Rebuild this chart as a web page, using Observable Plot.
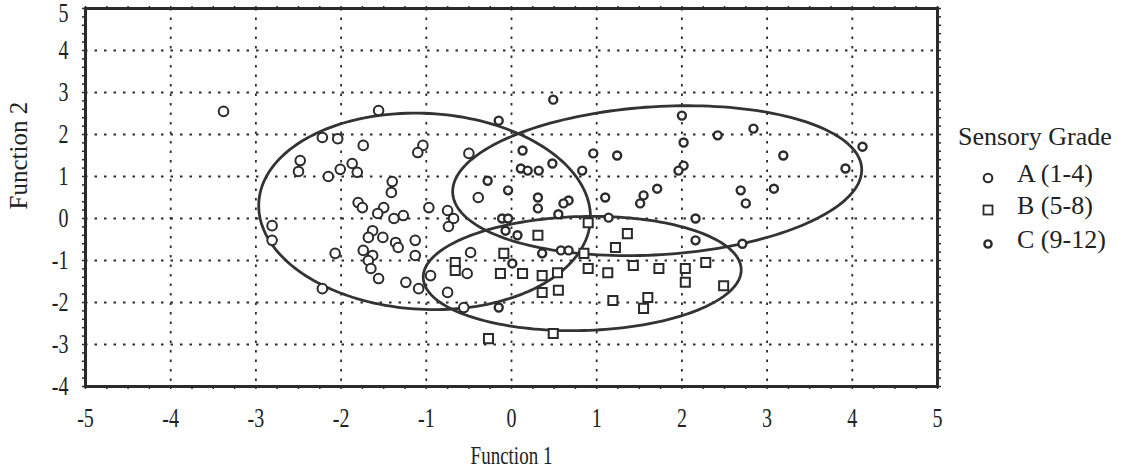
<!DOCTYPE html>
<html>
<head>
<meta charset="utf-8">
<script src="https://cdn.jsdelivr.net/npm/d3@7"></script>
<script src="https://cdn.jsdelivr.net/npm/@observablehq/plot@0.6"></script>
<style>
  html, body { margin: 0; padding: 0; background: #fff; }
  #wrap { position: relative; width: 1126px; height: 472px; font-family: "Liberation Serif", "Times New Roman", serif; color: #222; }
  #wrap svg.plot { position: absolute; left: 0; top: 0; }
  .lg { position: absolute; font-size: 26px; line-height: 26px; white-space: nowrap; color: #222; }
  .ls { position: absolute; }
</style>
</head>
<body>
<div id="wrap"></div>
<script>
// ---- Data ----
const xTicks = [-5, -4, -3, -2, -1, 0, 1, 2, 3, 4, 5];
const yTicks = [-4, -3, -2, -1, 0, 1, 2, 3, 4, 5];
const xLabel = "Function 1";
const yLabel = "Function 2";
const legendTitle = "Sensory Grade";
const legendLabels = ["A (1-4)", "B (5-8)", "C (9-12)"];

// Grade A (1-4): circles
const gradeA_x = [-3.38, -1.56, -2.22, -2.04, -1.74, -1.04, -1.10, -0.50, -2.48, -2.50,
  -2.15, -2.01, -1.87, -1.81, -1.40, -1.41, -0.39, -1.80, -1.75, -1.50,
  -1.57, -1.27, -1.38, -0.97, -0.75, -0.68, -0.74, -2.81, -2.81, -1.63,
  -1.51, -1.68, -1.36, -1.33, -1.13, -1.13, -1.74, -1.63, -1.68, -1.65,
  -2.07, -1.56, -1.24, -1.09, -0.95, -2.22, -0.48, -0.52, -0.75, -0.56];
const gradeA_y = [2.55, 2.57, 1.93, 1.90, 1.74, 1.74, 1.57, 1.55, 1.38, 1.12,
  1.00, 1.17, 1.31, 1.10, 0.88, 0.62, 0.50, 0.38, 0.26, 0.26,
  0.12, 0.07, 0.00, 0.26, 0.19, 0.00, -0.19, -0.17, -0.52, -0.29,
  -0.45, -0.45, -0.57, -0.69, -0.52, -0.88, -0.76, -0.88, -1.00, -1.19,
  -0.83, -1.43, -1.52, -1.67, -1.36, -1.67, -0.81, -1.31, -1.76, -2.12];

// Grade B (5-8): squares
const gradeB_x = [0.90, 0.31, 1.36, 1.22, -0.09, 0.85, -0.66, -0.66, -0.13, 0.13,
  0.36, 0.54, 0.90, 1.13, 1.43, 1.73, 2.04, 2.04, 2.28, 2.49,
  0.36, 0.55, 1.19, 1.60, 1.55, 0.49, -0.27];
const gradeB_y = [-0.10, -0.40, -0.36, -0.69, -0.83, -0.83, -1.05, -1.24, -1.31, -1.31,
  -1.36, -1.29, -1.19, -1.29, -1.12, -1.19, -1.19, -1.52, -1.05, -1.60,
  -1.76, -1.71, -1.95, -1.88, -2.14, -2.74, -2.86];

// Grade C (9-12): small bold circles
const gradeC_x = [-0.15, 0.49, 2.00, 2.84, 2.42, 2.02, 0.13, 0.96, 1.24, 0.48,
  0.11, 0.19, 0.32, 0.83, 2.02, 1.96, -0.28, -0.04, 0.31, 0.31,
  0.67, 0.61, 1.10, 1.71, 1.55, 1.51, 2.69, 2.75, 3.08, 4.12,
  3.19, 3.92, -0.11, -0.04, 1.14, 2.16, -0.07, 0.07, 2.16, 2.71,
  0.01, 0.36, 0.58, 0.67, -0.15, 0.55];
const gradeC_y = [2.33, 2.83, 2.45, 2.14, 1.98, 1.81, 1.62, 1.55, 1.50, 1.31,
  1.19, 1.14, 1.14, 1.14, 1.26, 1.14, 0.90, 0.67, 0.50, 0.24,
  0.43, 0.36, 0.50, 0.71, 0.55, 0.36, 0.67, 0.36, 0.71, 1.71,
  1.50, 1.19, 0.00, 0.00, 0.02, 0.00, -0.29, -0.40, -0.52, -0.60,
  -1.07, -0.83, -0.76, -0.76, -2.12, 0.10];

// Group ellipses: centre and two conjugate semi-axis vectors (data units)
const ellipseGroup = ["A", "B", "C"];
const ellipseCx = [-1.02, 0.83, 1.71];
const ellipseCy = [0.17, -1.31, 0.90];
const ellipseUx = [1.946, 1.866, 2.40];
const ellipseUy = [-0.207, 0.10, 0.298];
const ellipseVx = [0.06, -0.018, -0.053];
const ellipseVy = [2.33, 1.357, 1.76];

// ---- Build tables ----
const ptsA = gradeA_x.map((x, i) => ({x, y: gradeA_y[i]}));
const ptsB = gradeB_x.map((x, i) => ({x, y: gradeB_y[i]}));
const ptsC = gradeC_x.map((x, i) => ({x, y: gradeC_y[i]}));
const ellipsePts = [];
ellipseGroup.forEach((g, k) => {
  const n = 180;
  for (let i = 0; i <= n; i++) {
    const t = 2 * Math.PI * i / n;
    ellipsePts.push({
      g,
      x: ellipseCx[k] + ellipseUx[k] * Math.cos(t) + ellipseVx[k] * Math.sin(t),
      y: ellipseCy[k] + ellipseUy[k] * Math.cos(t) + ellipseVy[k] * Math.sin(t)
    });
  }
});
const gridXv = xTicks.slice(1, -1);
const gridYv = yTicks.slice(1, -1);
const yTop = yTicks[yTicks.length - 1];
const yTicksLow = yTicks.filter(v => v < yTop);
const minorX = d3.range(-5, 5.0001, 0.25);
const minorY = d3.range(-4, 5.0001, 0.2);

const ink = "#2b2b2b";
const fmt = d => String(d);
const grid = {stroke: ink, strokeOpacity: 1, strokeWidth: 1.8, strokeDasharray: "2.5,7"};
const minor = {tickSize: 3, tickFormat: () => "", label: null, stroke: ink, strokeWidth: 1.5};
const tickTxt = {tickSize: 0, tickFormat: fmt, label: null, fontSize: 20, fill: "#222"};

const plot = Plot.plot({
  width: 1126,
  height: 472,
  marginLeft: 85,
  marginRight: 189,
  marginTop: 8,
  marginBottom: 86,
  x: {domain: [-5, 5]},
  y: {domain: [-4, 5]},
  style: {fontFamily: "'Liberation Serif', 'Times New Roman', serif", fontSize: "20px", color: "#222", background: "#fff", overflow: "visible"},
  marks: [
    Plot.gridX(gridXv, grid),
    Plot.gridY(gridYv, grid),
    Plot.axisX(minorX, {anchor: "bottom", ...minor}),
    Plot.axisX(minorX, {anchor: "top", ...minor}),
    Plot.axisY(minorY, {anchor: "left", ...minor}),
    Plot.axisY(minorY, {anchor: "right", ...minor}),
    Plot.axisX(xTicks, {anchor: "bottom", tickPadding: 24, ...tickTxt}),
    Plot.axisY(yTicksLow, {anchor: "left", tickPadding: 17, ...tickTxt}),
    Plot.axisY([yTop], {anchor: "left", tickPadding: 17, dy: 5, ...tickTxt}),
    Plot.line(ellipsePts, {x: "x", y: "y", z: "g", stroke: "#333", strokeWidth: 2.8, curve: "linear"}),
    Plot.dot(ptsA, {x: "x", y: "y", symbol: "circle", r: 4.8, stroke: ink, strokeWidth: 2.0, fill: "white"}),
    Plot.dot(ptsC, {x: "x", y: "y", symbol: "circle", r: 4.0, stroke: ink, strokeWidth: 2.4, fill: "white"}),
    Plot.dot(ptsB, {x: "x", y: "y", symbol: "square", r: 5.1, stroke: ink, strokeWidth: 2.0, fill: "white"}),
    Plot.frame({stroke: ink, strokeWidth: 3}),
    Plot.text([xLabel], {frameAnchor: "bottom", dy: 69, fontSize: 19, fill: "#222", lineAnchor: "middle", className: "stretch"}),
    Plot.text([yLabel], {frameAnchor: "left", dx: -67, dy: 12, rotate: -90, fontSize: 25, fill: "#222", lineAnchor: "middle"})
  ]
});
plot.classList.add("plot");
const wrap = document.getElementById("wrap");
wrap.appendChild(plot);

// The reference figure is vertically stretched: stretch horizontal axis texts about their centres.
const SY = 1.35;
const stretchTexts = [];
plot.querySelectorAll("g[aria-label$='tick label'] text").forEach(t => stretchTexts.push(t));
plot.querySelectorAll("g.stretch text, text.stretch").forEach(t => stretchTexts.push(t));
stretchTexts.forEach(t => {
  if (!t.textContent) return;
  const b = t.getBBox();
  const cx = b.x + b.width / 2, cy = b.y + b.height / 2;
  const prev = t.getAttribute("transform") || "";
  t.setAttribute("transform", `${prev} translate(${cx},${cy}) scale(1,${SY}) translate(${-cx},${-cy})`.trim());
});

// ---- Legend (HTML, right of the plot) ----
function addText(txt, left, top) {
  const d = document.createElement("div");
  d.className = "lg";
  d.style.left = left + "px";
  d.style.top = top + "px";
  d.textContent = txt;
  wrap.appendChild(d);
}
function addSymbol(kind, cx, cy) {
  const ns = "http://www.w3.org/2000/svg";
  const s = document.createElementNS(ns, "svg");
  s.setAttribute("class", "ls");
  s.setAttribute("width", 16);
  s.setAttribute("height", 16);
  s.style.left = (cx - 8) + "px";
  s.style.top = (cy - 8) + "px";
  let el;
  if (kind === "square") {
    el = document.createElementNS(ns, "rect");
    el.setAttribute("x", 3.5); el.setAttribute("y", 3.5);
    el.setAttribute("width", 9); el.setAttribute("height", 9);
    el.setAttribute("stroke-width", 1.8);
  } else {
    el = document.createElementNS(ns, "circle");
    el.setAttribute("cx", 8); el.setAttribute("cy", 8);
    el.setAttribute("r", kind === "small" ? 3.6 : 4.3);
    el.setAttribute("stroke-width", kind === "small" ? 2.4 : 2.1);
  }
  el.setAttribute("fill", "white");
  el.setAttribute("stroke", ink);
  s.appendChild(el);
  wrap.appendChild(s);
}
addText(legendTitle, 958, 124);
const legendKinds = ["circle", "square", "small"];
const legendRowY = [178, 210, 244];
legendLabels.forEach((lab, i) => {
  addSymbol(legendKinds[i], 988, legendRowY[i]);
  addText(lab, 1017, legendRowY[i] - 17);
});
</script>
</body>
</html>
